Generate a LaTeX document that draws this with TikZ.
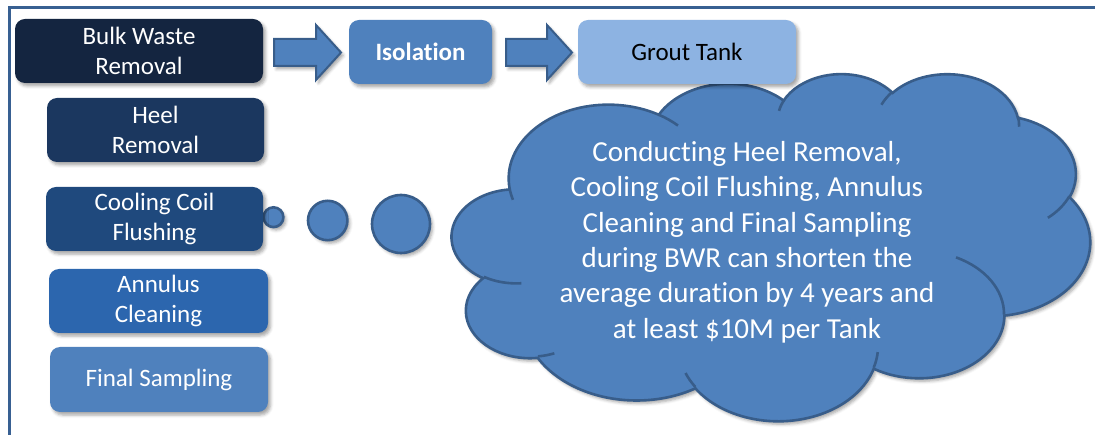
\documentclass[tikz,border=0pt]{standalone}
\usepackage{fontspec}
\setmainfont{Carlito}[Ligatures=NoCommon]
\usetikzlibrary{shadows.blur}
\definecolor{navyA}{HTML}{142540}
\definecolor{navyB}{HTML}{1B375F}
\definecolor{blueC}{HTML}{1F497D}
\definecolor{blueD}{HTML}{2C66AE}
\definecolor{blueE}{HTML}{4F81BD}
\definecolor{blueF}{HTML}{8DB3E2}
\definecolor{edgeblue}{HTML}{385D8A}
\definecolor{framecol}{HTML}{386092}
\tikzset{
  softshadow/.style={blur shadow={shadow xshift=2.5pt, shadow yshift=-3pt, shadow blur radius=3pt, shadow opacity=35}},
  stage/.style={rectangle, rounded corners=10pt, draw=none, inner sep=0pt, align=center,
    text=white, font=\fontsize{25}{30.5}\selectfont, minimum height=64pt, softshadow},
  bubble/.style={fill=blueE, draw=edgeblue, line width=2.6pt, softshadow},
  puff/.style={circle, bubble, inner sep=0pt},
  blockarrow/.style={fill=blueE, draw=edgeblue, line width=2pt, line join=miter, softshadow},
  innerline/.style={draw=edgeblue, line width=2.6pt},
}
\begin{document}
\begin{tikzpicture}[x=1pt, y=-1pt]
\useasboundingbox (0,0) rectangle (1095,435);

% frame edges
\draw[framecol, line width=3pt] (9,435) -- (9,7.5) -- (1095,7.5);

% thought cloud
\begin{scope}[shift={(452pt,-73pt)}, x=1.476852pt, y=-0.803241pt]
\draw[bubble] (39.00,143.70)
  arc[x radius=67.53, y radius=91.90, start angle=-187.746, end angle=-59.636]
  arc[x radius=53.33, y radius=72.67, start angle=-152.019, end angle=-45.441]
  arc[x radius=43.65, y radius=59.45, start angle=-153.486, end angle=-37.33]
  arc[x radius=48.57, y radius=65.95, start angle=-139.70, end angle=-10.21]
  arc[x radius=53.33, y radius=72.73, start angle=-74.77, end angle=23.21]
  arc[x radius=67.75, y radius=92.20, start angle=-37.53, end angle=81.86]
  arc[x radius=57.85, y radius=78.67, start angle=0.46, end angle=121.98]
  arc[x radius=67.52, y radius=92.15, start angle=16.84, end angle=146.25]
  arc[x radius=77.20, y radius=105.43, start angle=58.99, end angle=150.20]
  arc[x radius=43.60, y radius=59.18, start angle=83.31, end angle=223.09]
  arc[x radius=43.45, y radius=59.45, start angle=120.36, end angle=264.11]
  -- cycle;
\draw[innerline]
  (46.93,261.77) arc[x radius=43.45, y radius=59.45, start angle=85.55, end angle=120.36]
  (69.28,348.99) arc[x radius=43.60, y radius=59.18, start angle=68.24, end angle=83.31]
  (164.78,390.90) arc[x radius=67.52, y radius=92.15, start angle=146.25, end angle=158.47]
  (288.27,347.51) arc[x radius=67.52, y radius=92.15, start angle=4.74, end angle=16.84]
  (341.29,229.54) arc[x radius=57.85, y radius=78.67, start angle=-64.03, end angle=0.46]
  (417.98,153.54) arc[x radius=53.33, y radius=72.73, start angle=23.21, end angle=49.65]
  (383.24,54.26) arc[x radius=48.57, y radius=65.95, start angle=-10.21, end angle=0.82]
  (290.78,39.52) arc[x radius=48.57, y radius=65.95, start angle=-156.29, end angle=-139.70]
  (221.41,47.20) arc[x radius=43.65, y radius=59.45, start angle=-167.73, end angle=-153.49]
  (140.00,51.92) arc[x radius=67.53, y radius=91.90, start angle=-59.64, end angle=-45.72]
  (41.27,157.89) arc[x radius=67.53, y radius=91.90, start angle=163.19, end angle=172.25];
\end{scope}

\node[text=white, align=center, font=\fontsize{29}{35.4}\selectfont] (note) at (747,242)
  {Conducting Heel Removal,\\Cooling Coil Flushing, Annulus\\Cleaning and Final Sampling\\during BWR can shorten the\\average duration by 4 years and\\at least \$10M per Tank};

% trail of thought bubbles
\node[puff, minimum size=19.8pt] (p1) at (273.5,217.2) {};
\node[puff, minimum size=39.4pt] (p2) at (327.7,220.5) {};
\node[puff, minimum size=58pt] (p3) at (401,224) {};

% process stages
\node[stage, fill=navyA, minimum width=248pt] (bwr) at (139,51) {Bulk Waste\\Removal};
\node[stage, fill=navyB, minimum width=217pt] (heel) at (155.5,130) {Heel\\Removal};
\node[stage, fill=blueC, minimum width=217pt] (coil) at (154.5,219) {Cooling Coil\\Flushing};
\node[stage, fill=blueD, minimum width=219pt] (annulus) at (158.5,301) {Annulus\\Cleaning};
\node[stage, fill=blueE, minimum width=218pt, minimum height=65pt] (final) at (159,379.5) {Final Sampling};
\node[stage, fill=blueE, minimum width=143pt, font=\fontsize{25}{30.5}\selectfont\bfseries] (iso) at (420.5,52) {Isolation};
\node[stage, fill=blueF, minimum width=218pt, text=black] (grout) at (687,52) {Grout Tank};

% block arrows between the top stages
\draw[blockarrow] (274,39) -- (316,39) -- (316,25) -- (341,52.5) -- (316,80) -- (316,66) -- (274,66) -- cycle;
\draw[blockarrow] (506,39) -- (547,39) -- (547,25) -- (572,52.5) -- (547,80) -- (547,66) -- (506,66) -- cycle;
\end{tikzpicture}
\end{document}
